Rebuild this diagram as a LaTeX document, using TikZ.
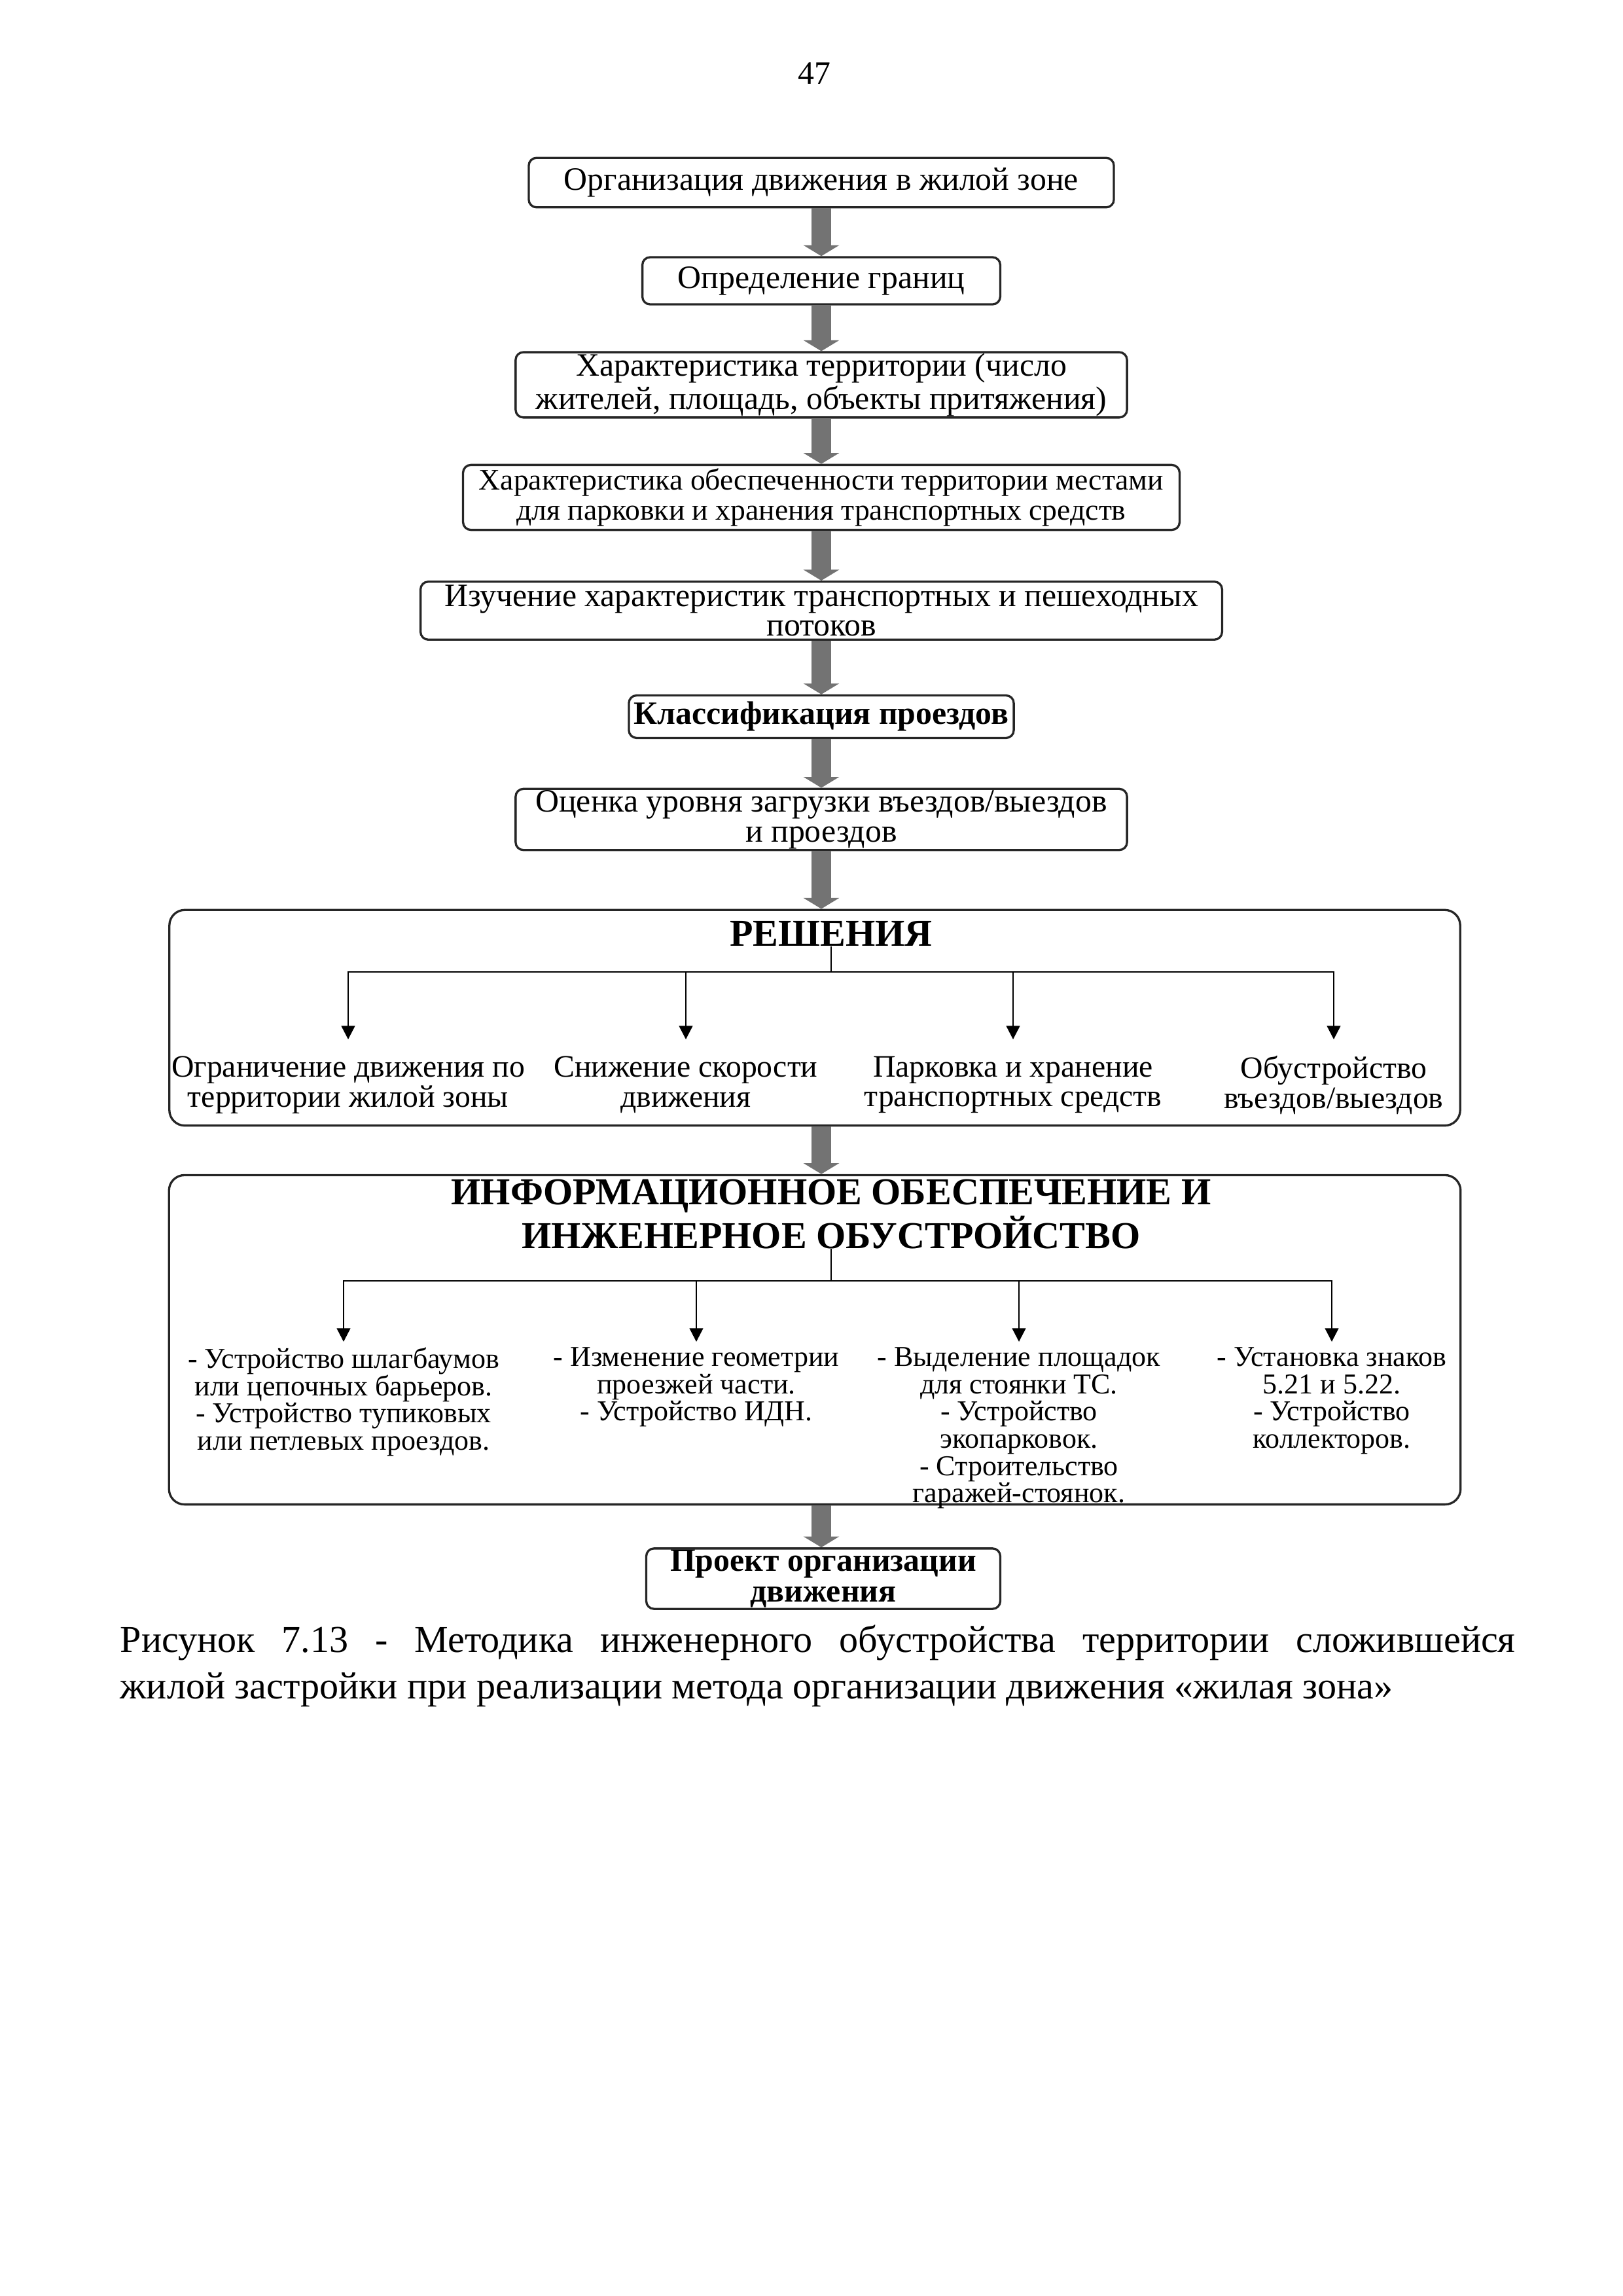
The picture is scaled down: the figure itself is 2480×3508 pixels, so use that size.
\documentclass[tikz,border=0pt]{standalone}
\usepackage{fontspec}
\setmainfont{Liberation Serif}
\usetikzlibrary{arrows.meta, positioning}

\begin{document}
\begin{tikzpicture}[x=0.08467mm, y=-0.08467mm,
    stage/.style={draw=black!85, line width=0.8pt, rounded corners=1mm, align=center, inner sep=0.5pt, font=\fontsize{12}{11}\selectfont},
    block/.style={draw=black!85, line width=0.8pt, rounded corners=2mm},
    flow/.style={draw=black!55, line width=7pt, -{Triangle[width=13pt, length=4pt]}},
    branch/.style={draw, line width=0.6pt, -{Triangle[width=5pt, length=5pt]}},
    ritem/.style={align=center, inner xsep=0pt, inner ysep=6pt, font=\fontsize{11.5}{11}\selectfont},
    iitem/.style={align=center, inner xsep=0pt, inner ysep=2pt, font=\fontsize{10.6}{10}\selectfont},
    headline/.style={align=center, inner sep=0pt, font=\bfseries\fontsize{14}{14}\selectfont}]
  \useasboundingbox (0,0) rectangle (2480,3508);
  \node (pg) at (1244,112) {\fontsize{12}{14}\selectfont 47};
  \node[stage, minimum width=75.7mm, minimum height=6.4mm] (a) at (1255,279) {Организация движения в жилой зоне};
  \node[stage, minimum width=46.3mm, minimum height=6.1mm] (b) at (1255,429) {Определение границ};
  \node[stage, minimum width=79.1mm, minimum height=7.7mm] (c) at (1255,588) {Характеристика территории (число\\жителей, площадь, объекты притяжения)};
  \node[stage, minimum width=92.7mm, minimum height=8.4mm, font=\fontsize{11}{11}\selectfont] (d) at (1255,760) {Характеристика обеспеченности территории местами\\для парковки и хранения транспортных средств};
  \node[stage, minimum width=103.7mm, minimum height=7.5mm] (e) at (1255,933) {Изучение характеристик транспортных и пешеходных\\потоков};
  \node[stage, minimum width=49.8mm, minimum height=5.5mm, font=\bfseries\fontsize{12}{11}\selectfont] (f) at (1255,1095) {Классификация проездов};
  \node[stage, minimum width=79.1mm, minimum height=7.8mm] (g) at (1255,1252) {Оценка уровня загрузки въездов/выездов\\и проездов};
  \draw[flow] (a) -- (b);
  \draw[flow] (b) -- (c);
  \draw[flow] (c) -- (d);
  \draw[flow] (d) -- (e);
  \draw[flow] (e) -- (f);
  \draw[flow] (f) -- (g);

  \node[block, minimum width=167mm, minimum height=27.9mm] (res) at (1245,1555) {};
  \node[headline] (rt) at (1270,1426) {РЕШЕНИЯ};
  \coordinate (rbar) at (1270,1485);
  \node[ritem, anchor=north] (r1) at (532,1588) {Ограничение движения по\\территории жилой зоны};
  \node[ritem, anchor=north] (r2) at (1048,1588) {Снижение скорости\\движения};
  \node[ritem, anchor=north] (r3) at (1548,1588) {Парковка и хранение\\транспортных средств};
  \node[ritem, anchor=north] (r4) at (2038,1588) {Обустройство\\въездов/выездов};
  \draw[line width=0.6pt] (rt) -- (rbar);
  \foreach \i in {1,...,4}
    \draw[branch] (rbar) -| (r\i.north);

  \node[block, minimum width=167.1mm, minimum height=42.6mm] (inf) at (1245,2047) {};
  \node[headline] (it) at (1270,1855) {ИНФОРМАЦИОННОЕ ОБЕСПЕЧЕНИЕ И\\ИНЖЕНЕРНОЕ ОБУСТРОЙСТВО};
  \coordinate (ibar) at (1270,1957);
  \node[iitem, anchor=north] (i1) at (525,2050) {- Устройство шлагбаумов\\или цепочных барьеров.\\- Устройство тупиковых\\или петлевых проездов.};
  \node[iitem, anchor=north] (i2) at (1064,2050) {- Изменение геометрии\\проезжей части.\\- Устройство ИДН.};
  \node[iitem, anchor=north] (i3) at (1557,2050) {- Выделение площадок\\для стоянки ТС.\\- Устройство\\экопарковок.\\- Строительство\\гаражей-стоянок.};
  \node[iitem, anchor=north] (i4) at (2035,2050) {- Установка знаков\\5.21 и 5.22.\\- Устройство\\коллекторов.};
  \draw[line width=0.6pt] (it) -- (ibar);
  \foreach \i in {1,...,4}
    \draw[branch] (ibar) -| (i\i.north);

  \node[stage, minimum width=45.8mm, minimum height=7.5mm, font=\bfseries\fontsize{12}{11.3}\selectfont] (h) at (1258,2412) {Проект организации\\движения};
  \draw[flow] (g) -- (g |- res.north);
  \draw[flow] (res.south -| g) -- (g |- inf.north);
  \draw[flow] (inf.south -| g) -- (g |- h.north);

  \node[text width=180.5mm, align=justify, inner sep=0pt, anchor=north west, font=\fontsize{14}{17}\selectfont] (cap) at (183,2482) {Рисунок 7.13 - Методика инженерного обустройства территории сложившейся\linebreak жилой застройки при реализации метода организации движения «жилая зона»};
\end{tikzpicture}
\end{document}
